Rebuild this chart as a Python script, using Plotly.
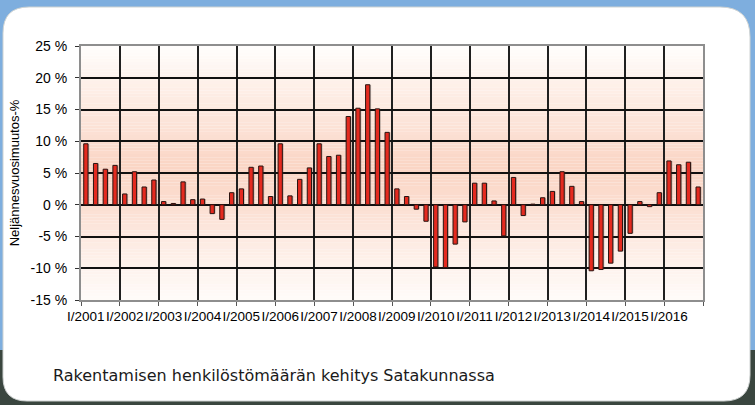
import plotly.graph_objects as go

# Quarterly change in construction employment, Satakunta (%), I/2001 – IV/2016
years = list(range(2001, 2017))
quarter_labels = [f"{q}/{y}" for y in years for q in ("I", "II", "III", "IV")]
change_pct = [
    9.6, 6.5, 5.6, 6.2,      # 2001
    1.7, 5.2, 2.8, 3.9,      # 2002
    0.5, 0.2, 3.6, 0.8,      # 2003
    0.9, -1.4, -2.3, 1.9,    # 2004
    2.5, 5.9, 6.1, 1.3,      # 2005
    9.6, 1.4, 4.0, 5.8,      # 2006
    9.6, 7.6, 7.8, 13.9,     # 2007
    15.2, 18.9, 15.1, 11.4,  # 2008
    2.5, 1.3, -0.7, -2.6,    # 2009
    -9.8, -9.9, -6.2, -2.7,  # 2010
    3.4, 3.4, 0.6, -4.9,     # 2011
    4.3, -1.7, 0.1, 1.1,     # 2012
    2.1, 5.2, 2.9, 0.5,      # 2013
    -10.4, -10.2, -9.2, -7.3,  # 2014
    -4.5, 0.5, -0.3, 1.9,    # 2015
    6.9, 6.3, 6.7, 2.8,      # 2016
]
year_labels = [f"I/{y}" for y in years]
y_ticks = [-15, -10, -5, 0, 5, 10, 15, 20, 25]

# layout geometry (pixels)
FIG_W, FIG_H = 755, 405
L, R, T, B = 81, 703, 46, 300
PW, PH = R - L, B - T


def px(x):
    return (x - L) / PW


def py(y):
    return (B - y) / PH


def rounded_rect(x0, y0, x1, y1, r_tl, r_tr, r_br, r_bl):
    pts = [
        f"M {px(x0 + r_tl)},{py(y0)}",
        f"L {px(x1 - r_tr)},{py(y0)}",
        f"Q {px(x1)},{py(y0)} {px(x1)},{py(y0 + r_tr)}",
        f"L {px(x1)},{py(y1 - r_br)}",
        f"Q {px(x1)},{py(y1)} {px(x1 - r_br)},{py(y1)}",
        f"L {px(x0 + r_bl)},{py(y1)}",
        f"Q {px(x0)},{py(y1)} {px(x0)},{py(y1 - r_bl)}",
        f"L {px(x0)},{py(y0 + r_tl)}",
        f"Q {px(x0)},{py(y0)} {px(x0 + r_tl)},{py(y0)}",
        "Z",
    ]
    return " ".join(pts)


def lerp_color(stops, v):
    for (v0, c0), (v1, c1) in zip(stops, stops[1:]):
        if v0 <= v <= v1:
            t = (v - v0) / (v1 - v0)
            c = [round(a + (b - a) * t) for a, b in zip(c0, c1)]
            return f"rgb({c[0]},{c[1]},{c[2]})"
    c = stops[-1][1]
    return f"rgb({c[0]},{c[1]},{c[2]})"


# vertical peach gradient behind the bars
grad_stops = [
    (-15, (255, 251, 249)),
    (-10, (254, 243, 237)),
    (-5, (253, 233, 224)),
    (0, (251, 222, 209)),
    (6, (250, 213, 196)),
    (10, (251, 221, 208)),
    (15, (253, 232, 222)),
    (20, (254, 242, 236)),
    (25, (255, 254, 253)),
]

shapes = []
# outer backdrop and the white rounded panel
shapes.append(dict(type="rect", xref="paper", yref="paper", layer="below",
                   x0=px(0), x1=px(FIG_W), y0=py(FIG_H), y1=py(350),
                   fillcolor="#3a463f", line_width=0))
shapes.append(dict(type="path", xref="paper", yref="paper", layer="below",
                   path=rounded_rect(3, 7, 750, 401, 26, 30, 26, 24),
                   fillcolor="white", line=dict(color="#cfd3d2", width=1)))

step = 0.5
v = -15.0
while v < 25:
    shapes.append(dict(type="rect", xref="paper", yref="y", layer="below",
                       x0=0, x1=1, y0=v, y1=v + step,
                       fillcolor=lerp_color(grad_stops, v + step / 2), line_width=0))
    v += step

x_idx = list(range(len(change_pct)))
bar_w = 0.44

fig = go.Figure()
# soft drop shadow
fig.add_trace(go.Bar(
    x=x_idx, y=change_pct, width=bar_w, offset=-bar_w / 2 + 0.13,
    marker=dict(color="rgba(60,60,60,0.28)", line_width=0),
    hoverinfo="skip", showlegend=False,
))
fig.add_trace(go.Bar(
    x=x_idx, y=change_pct, width=bar_w, offset=-bar_w / 2,
    marker=dict(color="#e42a1f", line=dict(color="#2a1410", width=1)),
    customdata=quarter_labels,
    hovertemplate="%{customdata}: %{y} %<extra></extra>",
    showlegend=False,
))

fig.update_layout(
    width=FIG_W, height=FIG_H,
    margin=dict(l=L, r=FIG_W - R, t=T, b=FIG_H - B, pad=0),
    paper_bgcolor="#7eaede",
    plot_bgcolor="white",
    barmode="overlay",
    shapes=shapes,
    font=dict(family="Liberation Sans, Arial, sans-serif", color="black"),
    xaxis=dict(
        range=[-0.5, len(change_pct) - 0.5],
        tickvals=[4 * i for i in range(len(years))],
        ticktext=year_labels,
        tickangle=0,
        tickfont=dict(size=13.5),
        ticks="",
        ticklabelstandoff=3,
        showgrid=False,
        zeroline=False,
        showline=True, mirror=True, linecolor="#8e8e8e", linewidth=2,
        minor=dict(tickvals=[4 * i - 0.5 for i in range(len(years) + 1)],
                   showgrid=True, gridcolor="#202020", gridwidth=1.5,
                   ticks="outside", ticklen=4, tickcolor="#555555"),
        fixedrange=True,
    ),
    yaxis=dict(
        range=[-15, 25],
        tickvals=y_ticks,
        ticktext=[f"{t} %" for t in y_ticks],
        tickfont=dict(size=14),
        ticks="outside", ticklen=4, tickcolor="#333333",
        ticklabelstandoff=5,
        showgrid=True, gridcolor="#111111", gridwidth=1.5,
        zeroline=False,
        showline=True, mirror=True, linecolor="#8e8e8e", linewidth=2,
        title=dict(text="Neljännesvuosimuutos-%", font=dict(size=13), standoff=8),
        fixedrange=True,
    ),
    annotations=[dict(
        text="Rakentamisen henkilöstömäärän kehitys Satakunnassa",
        xref="paper", yref="paper", x=px(51), y=py(375),
        xanchor="left", yanchor="middle", showarrow=False,
        font=dict(family="DejaVu Sans, sans-serif", size=16, color="#1a1a1a"),
    )],
)

fig.write_html("out.html")
